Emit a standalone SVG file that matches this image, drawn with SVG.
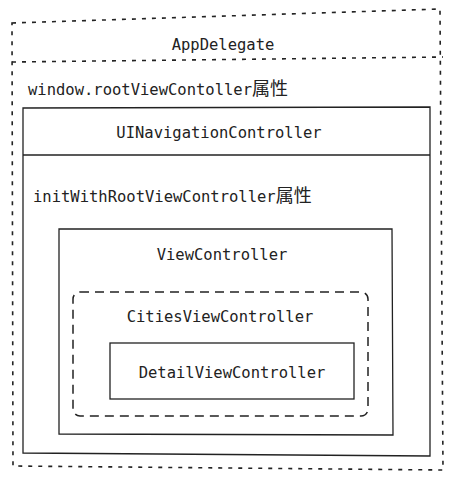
<svg xmlns="http://www.w3.org/2000/svg" width="461" height="480" viewBox="0 0 461 480">
<style>
.t{font-family:"DejaVu Sans Mono","Liberation Mono","Noto Sans CJK SC",monospace;font-size:15.5px;fill:#222;}
.c{text-anchor:middle;}
.cjk{font-family:"Noto Sans CJK SC",sans-serif;font-size:18px;}
.solid{fill:none;stroke:#222;stroke-width:1.3;}
.dot{fill:none;stroke:#222;stroke-width:1.6;stroke-dasharray:4 6;}
.dash{fill:none;stroke:#222;stroke-width:1.5;stroke-dasharray:9 6;}
</style>
<rect width="461" height="480" fill="#fff"/>
<g id="appdelegate">
<path class="dot" d="M12,23 L440,9 L443,470 L13,466 Z"/>
<path class="dot" d="M12,62 L443,57"/>
<text class="t c" x="223" y="50">AppDelegate</text>
<text class="t" x="28" y="95">window.rootViewContoller<tspan class="cjk">属性</tspan></text>
</g>
<g id="uinavigationcontroller">
<path class="solid" d="M23,108 L430,107 L430,456 L23,453 Z"/>
<path class="solid" d="M23,155 L430,155"/>
<text class="t c" x="219" y="138">UINavigationController</text>
<text class="t" x="33" y="202">initWithRootViewController<tspan class="cjk">属性</tspan></text>
</g>
<g id="viewcontroller">
<path class="solid" d="M59,229 L392,229 L393,435 L59,434 Z"/>
<text class="t c" x="222" y="260">ViewController</text>
</g>
<g id="citiesviewcontroller">
<rect class="dash" x="73" y="292" width="295" height="124" rx="7"/>
<text class="t c" x="220" y="322">CitiesViewController</text>
</g>
<g id="detailviewcontroller">
<rect class="solid" x="110" y="343" width="244" height="56"/>
<text class="t c" x="232" y="378">DetailViewController</text>
</g>
<g id="connectors"></g>
</svg>
